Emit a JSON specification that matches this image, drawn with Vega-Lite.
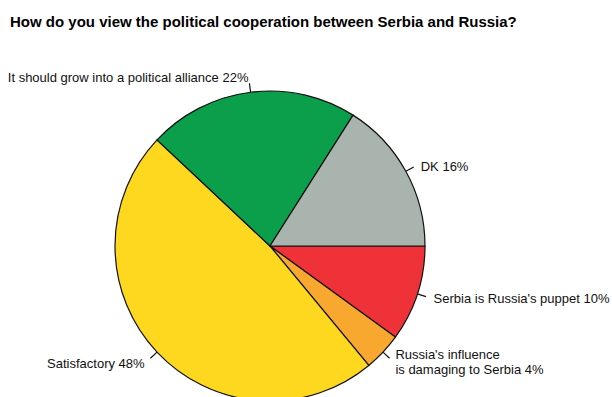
{
  "$schema": "https://vega.github.io/schema/vega-lite/v6.json",
  "width": 540,
  "height": 292,
  "autosize": {"type": "none"},
  "padding": {"left": 0, "top": 100, "right": 72, "bottom": 5},
  "background": "white",
  "title": {
    "text": "How do you view the political cooperation between Serbia and Russia?",
    "anchor": "start",
    "frame": "group",
    "font": "Liberation Sans",
    "fontSize": 15,
    "fontWeight": "bold",
    "color": "#000000",
    "dx": 10,
    "offset": 42
  },
  "data": {
    "values": [
      {"category": "Serbia is Russia's puppet", "label": "Serbia is Russia's puppet 10%", "percent": 10, "order": 1},
      {"category": "Russia's influence is damaging to Serbia", "label": "Russia's influence\n\u00a0is damaging to Serbia 4%", "percent": 4, "order": 2},
      {"category": "Satisfactory", "label": "Satisfactory 48%", "percent": 48, "order": 3},
      {"category": "It should grow into a political alliance", "label": "It should grow into a political alliance 22%", "percent": 22, "order": 4},
      {"category": "DK", "label": "DK 16%", "percent": 16, "order": 5}
    ]
  },
  "encoding": {
    "theta": {"field": "percent", "type": "quantitative", "stack": true, "scale": {"range": [1.5707963, 7.8539816]}},
    "order": {"field": "order", "type": "quantitative"}
  },
  "layer": [
    {
      "mark": {"type": "arc", "outerRadius": 155, "stroke": "#111111", "strokeWidth": 1.2},
      "encoding": {
        "color": {
          "field": "category",
          "type": "nominal",
          "scale": {
            "domain": ["Serbia is Russia's puppet", "Russia's influence is damaging to Serbia", "Satisfactory", "It should grow into a political alliance", "DK"],
            "range": ["#EE3237", "#F9A82F", "#FED71F", "#0B9E4B", "#A9B4AF"]
          },
          "legend": null
        }
      }
    },
    {
      "mark": {"type": "arc", "innerRadius": 155, "outerRadius": 164, "padAngle": 3.3, "filled": false, "stroke": "#111111", "strokeWidth": 1.2}
    },
    {
      "mark": {
        "type": "text",
        "radius": 172,
        "font": "Liberation Sans",
        "fontSize": 13,
        "baseline": "middle",
        "lineBreak": "\n",
        "lineHeight": 15,
        "color": "#111111",
        "align": {"expr": "datum.order == 3 || datum.order == 4 ? 'right' : 'left'"},
        "dy": {"expr": "datum.order == 2 ? -9 : datum.order == 5 ? 4 : datum.order == 4 ? 3 : 0"}
      },
      "encoding": {"text": {"field": "label"}}
    }
  ]
}
